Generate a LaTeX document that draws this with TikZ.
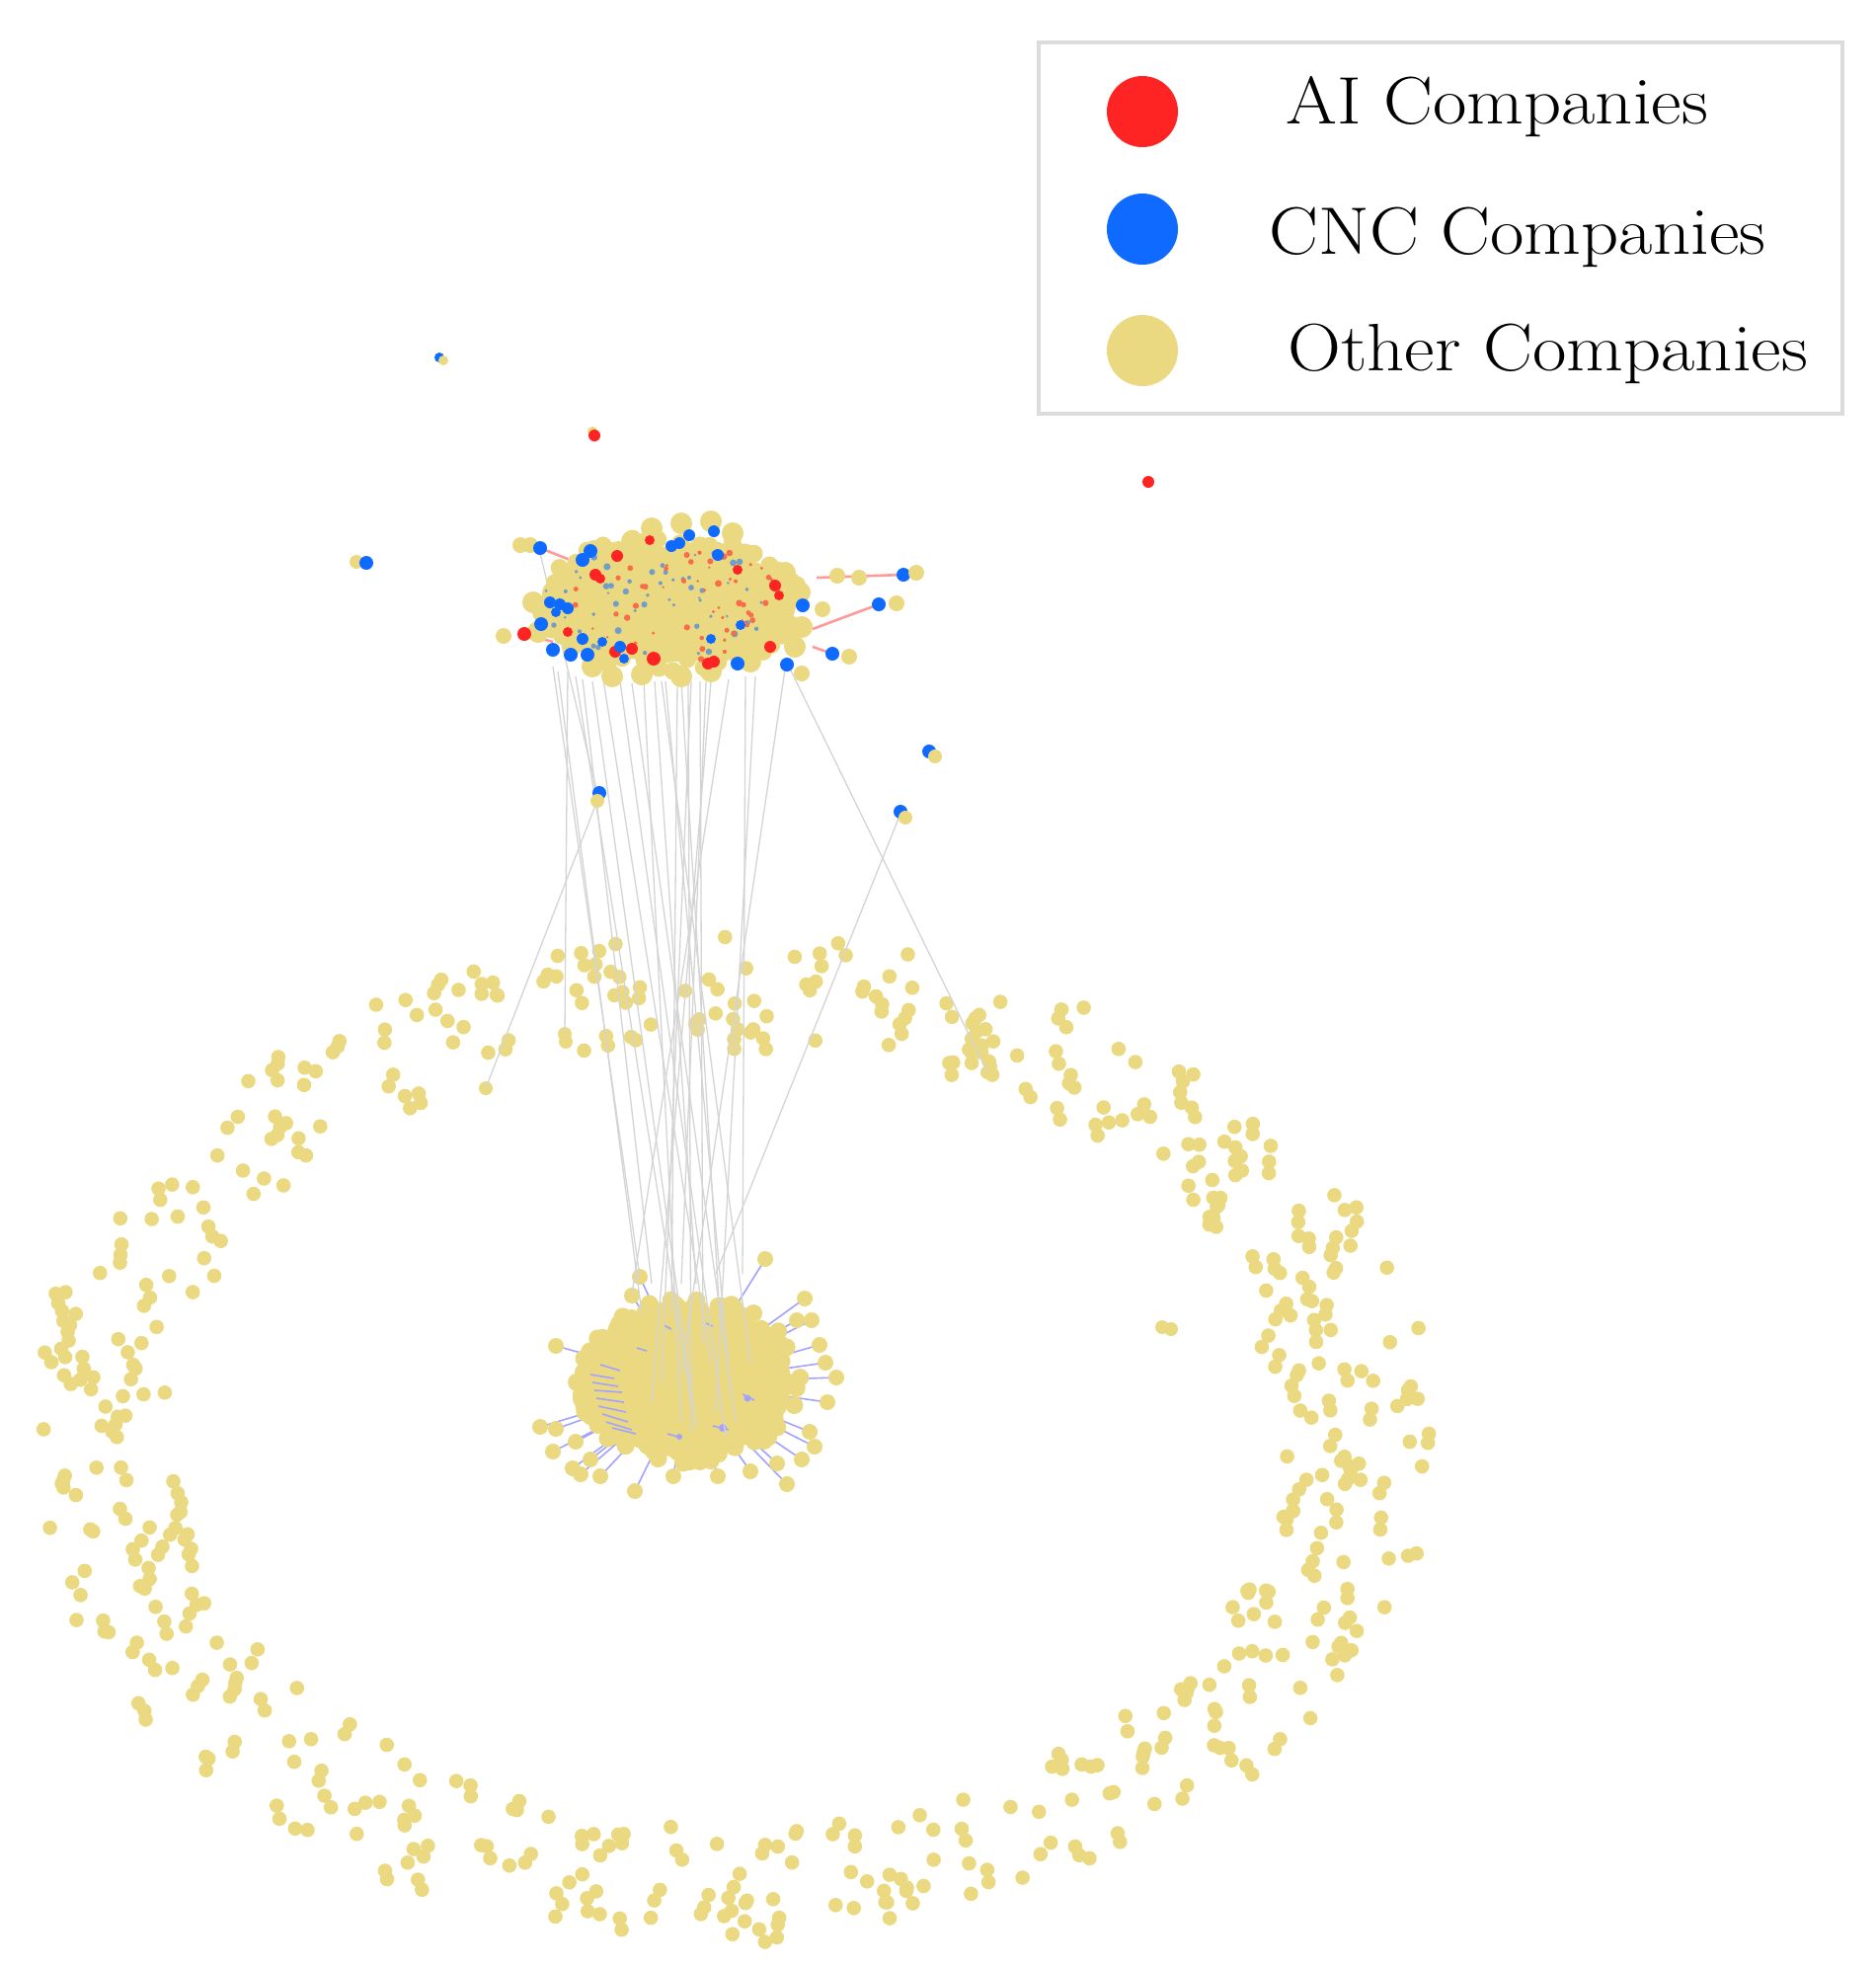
\documentclass[tikz,border=0pt]{standalone}
\usetikzlibrary{calc}
\definecolor{ylw}{HTML}{EAD981}
\definecolor{aired}{HTML}{FF2424}
\definecolor{cncblue}{HTML}{0F6BFF}
\definecolor{pinkedge}{HTML}{FF9A9A}
\definecolor{lavedge}{HTML}{A3A3FF}
\definecolor{grayedge}{HTML}{D4D4D4}
\definecolor{legframe}{HTML}{DCDCDC}
\newcommand\YDot[3][7]{\fill[ylw] (#2,#3) circle[radius=#1];}
\newcommand\BDot[3][7]{\fill[cncblue] (#2,#3) circle[radius=#1];}
\newcommand\RDot[3][7]{\fill[aired] (#2,#3) circle[radius=#1];}
\begin{document}
\begin{tikzpicture}[x=1pt,y=-1pt,
  grayline/.style={draw=grayedge,line width=1.3pt},
  pinkline/.style={draw=pinkedge,line width=2.6pt},
  lavline/.style={draw=lavedge,line width=1.6pt},
  legtext/.style={anchor=base west,inner sep=0pt,xscale=1.1,font=\fontsize{68}{72}\selectfont}]
\useasboundingbox (0,0) rectangle (1899,1992);
\fill[white] (0,0) rectangle (1899,1992);

% ---------------- outer ring of isolated companies ----------------
\pgfmathsetseed{4711}
\foreach \k in {1,...,490}{
  \pgfmathsetmacro\qa{360*rnd}
  \pgfmathsetmacro\qd{1+0.24*(rnd-0.5)}
  \pgfmathsetmacro\qx{740+640*\qd*cos(\qa)}
  \pgfmathsetmacro\qy{1454+452*\qd*sin(\qa)}
  \fill[ylw] (\qx,\qy) circle[radius=7.3];
  \pgfmathsetmacro\qp{rnd}
  \ifdim\qp pt<0.35pt
    \pgfmathsetmacro\qox{\qx+14*(rnd-0.5)}
    \pgfmathsetmacro\qoy{\qy+8+6*rnd}
    \fill[ylw] (\qox,\qoy) circle[radius=7.3];
  \fi
}
\YDot{492}{1102}
\YDot{572}{1047}\YDot{573}{1055}
\YDot{1000}{1086}\YDot{1003}{1080}
\YDot{1177}{1344}\YDot{1186}{1346}

% ---------------- bottom cluster ----------------
\foreach \nx/\ny in {563/1363,547/1445,563/1447,583/1460,580/1487,588/1493,608/1495,
   643/1510,682/1495,727/1495,787/1482,797/1503,825/1465,820/1450,847/1395,830/1362,
   822/1337,807/1337,775/1275,648/1293,640/1312,560/1470,598/1478,760/1490,812/1478,
   838/1420,836/1380,815/1315}{
  \draw[lavline] ($(697,1400)!0.6!(\nx,\ny)$) -- (\nx,\ny);
}
\fill[ylw] (697,1400) ellipse[x radius=104, y radius=76];
\foreach \k in {1,...,320}{
  \pgfmathsetmacro\qa{360*rnd}
  \pgfmathsetmacro\qr{sqrt(rnd)}
  \pgfmathsetmacro\qx{697+114*\qr*cos(\qa)}
  \pgfmathsetmacro\qy{1398+84*\qr*sin(\qa)}
  \fill[ylw] (\qx,\qy) circle[radius=9];
}
\foreach \nx/\ny in {563/1363,547/1445,563/1447,583/1460,580/1487,588/1493,608/1495,
   643/1510,682/1495,727/1495,787/1482,797/1503,825/1465,820/1450,847/1395,830/1362,
   822/1337,807/1337,775/1275,648/1293,640/1312,560/1470,598/1478,760/1490,812/1478,
   838/1420,836/1380,815/1315}{
  \fill[ylw] (\nx,\ny) circle[radius=8];
}
% lavender edges visible inside the bottom cluster
\foreach \ax/\ay/\bx/\by in {598/1392/622/1396,600/1400/626/1404,602/1408/630/1410,
   604/1416/632/1420,606/1424/634/1430,610/1432/636/1440,614/1440/640/1448,
   620/1446/644/1452,608/1382/628/1388,676/1452/690/1456,722/1444/738/1448,
   752/1412/764/1418,645/1365/655/1368,715/1340/722/1343,672/1342/680/1346}{
  \draw[lavline] (\ax,\ay) -- (\bx,\by);
}
\fill[lavedge] (732,1446) circle[radius=4];
\fill[lavedge] (757,1416) circle[radius=3.5];
\fill[lavedge] (688,1455) circle[radius=3];

% ---------------- grey edges between the clusters ----------------
\foreach \ax/\ay/\bx/\by in {547/560/606/808,606/808/492/1102,575/680/572/1047,
   798/673/1000/1086,912/824/725/1290,
   565/680/650/1330,583/685/700/1420,611/688/720/1380,628/690/735/1455,
   652/690/690/1440,663/690/705/1300,674/690/740/1410,686/690/680/1330,
   697/690/700/1450,709/690/712/1360,720/690/660/1420,738/688/640/1310,
   755/685/752/1290,765/685/725/1430,795/678/690/1390,690/690/730/1350,
   700/690/670/1400,590/688/660/1300,640/692/745/1440,715/690/690/1300,
   670/690/760/1380,600/690/705/1445,560/675/648/1293}{
  \draw[grayline] (\ax,\ay) -- (\bx,\by);
}

% ---------------- top cluster ----------------
\draw[pinkline] (547,555) -- (590,572) -- (603,582);
\draw[pinkline] (827,585) -- (915,582);
\draw[pinkline] (823,637) -- (890,612);
\draw[pinkline] (823,655) -- (843,662);
\draw[pinkline] (531,642) -- (560,650);
\fill[ylw] (680,612) ellipse[x radius=126, y radius=58];
\foreach \k in {1,...,280}{
  \pgfmathsetmacro\qa{360*rnd}
  \pgfmathsetmacro\qr{sqrt(rnd)}
  \pgfmathsetmacro\qx{680+136*\qr*cos(\qa)}
  \pgfmathsetmacro\qy{612+70*\qr*sin(\qa)}
  \fill[ylw] (\qx,\qy) circle[radius=9];
}
\foreach \nx/\ny in {800/590,810/600,795/580,560/600,550/620,545/640,540/610,
   600/675,620/685,650/683,690/685,720/680,760/670,660/535,690/530,720/528,
   742/540,620/560,640/548,812/635,805/655}{
  \fill[ylw] (\nx,\ny) circle[radius=11];
}
% partially hidden AI / CNC nodes inside the cluster
\foreach \k in {1,...,55}{
  \pgfmathsetmacro\qa{360*rnd}
  \pgfmathsetmacro\qr{sqrt(rnd)}
  \pgfmathsetmacro\qx{670+120*\qr*cos(\qa)}
  \pgfmathsetmacro\qy{610+56*\qr*sin(\qa)}
  \pgfmathsetmacro\qs{1.2+2.4*rnd}
  \fill[cncblue!55!ylw] (\qx,\qy) circle[radius=\qs];
}
\foreach \k in {1,...,55}{
  \pgfmathsetmacro\qa{360*rnd}
  \pgfmathsetmacro\qr{sqrt(rnd)}
  \pgfmathsetmacro\qx{695+120*\qr*cos(\qa)}
  \pgfmathsetmacro\qy{612+56*\qr*sin(\qa)}
  \pgfmathsetmacro\qs{1.2+2.4*rnd}
  \fill[aired!60!ylw] (\qx,\qy) circle[radius=\qs];
}
% nodes on the rim of the top cluster
\YDot[8]{527}{552}\YDot[8]{537}{552}
\BDot{547}{555}
\BDot{598}{558}\BDot{590}{567}
\RDot[6]{625}{563}\RDot[6]{603}{582}\RDot[5]{608}{586}
\YDot[8]{510}{644}\RDot{531}{642}
\BDot{548}{632}\BDot[6]{557}{610}\BDot[6]{567}{612}\BDot[6]{575}{616}\BDot[5]{563}{620}
\BDot{560}{658}\BDot{578}{663}\BDot{595}{663}\BDot[6]{590}{647}
\RDot[6]{623}{660}\RDot[6]{640}{657}\BDot[6]{628}{655}\BDot[5]{632}{667}
\RDot[7]{662}{667}\RDot[6]{717}{672}\RDot[6]{723}{670}
\BDot{747}{672}\BDot{797}{673}\YDot[8]{812}{682}
\BDot{843}{662}\YDot[8]{860}{665}
\RDot[6]{780}{655}
\BDot{813}{613}\YDot[8]{833}{617}
\BDot{890}{612}\YDot[8]{908}{611}
\YDot[8]{848}{583}\YDot[8]{870}{585}\BDot{915}{582}\YDot[8]{928}{580}
\RDot[6]{785}{593}\RDot[5]{789}{603}
\BDot[6]{698}{542}\BDot[6]{723}{538}\BDot[6]{680}{553}\BDot[6]{688}{550}\RDot[5]{658}{547}
\BDot[6]{727}{562}\RDot[5]{747}{577}
\BDot[5]{610}{650}\RDot[5]{575}{640}\BDot[5]{750}{633}\BDot[5]{720}{647}

% ---------------- isolated small components ----------------
\BDot[5]{445}{362}\YDot[5]{449}{365}
\YDot[5]{600}{437}\RDot[6]{602}{441}
\RDot[6]{1163}{488}
\YDot[7]{361}{569}\BDot[7]{371}{570}
\BDot[7]{941}{761}\YDot[7]{947}{766}
\BDot[7]{607}{803}\YDot[7]{605}{811}
\BDot[7]{912}{822}\YDot[7]{917}{828}

% ---------------- legend ----------------
\draw[legframe,line width=3.5pt] (1052,43) rectangle (1866,419);
\fill[aired] (1157,113) circle[radius=36];
\fill[cncblue] (1157,232) circle[radius=36];
\fill[ylw] (1157,355) circle[radius=36];
\node[legtext] (lai) at (1302,125) {AI Companies};
\node[legtext] (lcnc) at (1285,257) {CNC Companies};
\node[legtext] (loth) at (1304,375) {Other Companies};
\end{tikzpicture}
\end{document}
